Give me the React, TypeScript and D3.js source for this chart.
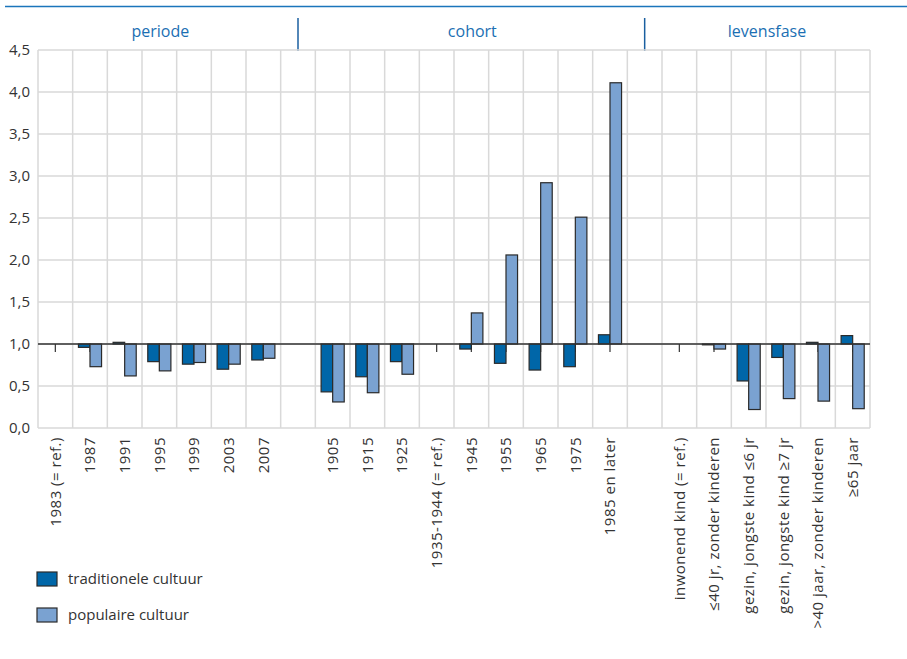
import React from "react";
import * as d3 from "d3";

const groups = ["periode", "cohort", "levensfase"];
const periodeCats = ["1983 (= ref.)", "1987", "1991", "1995", "1999", "2003", "2007"];
const periodeTrad = [1.0, 0.96, 1.02, 0.79, 0.76, 0.70, 0.81];
const periodePop = [1.0, 0.73, 0.62, 0.68, 0.78, 0.76, 0.83];
const cohortCats = ["1905", "1915", "1925", "1935-1944 (= ref.)", "1945", "1955", "1965", "1975", "1985 en later"];
const cohortTrad = [0.43, 0.61, 0.79, 1.0, 0.94, 0.77, 0.69, 0.73, 1.11];
const cohortPop = [0.31, 0.42, 0.64, 1.0, 1.37, 2.06, 2.92, 2.51, 4.11];
const levensCats = ["inwonend kind (= ref.)", "≤40 jr, zonder kinderen", "gezin, jongste kind ≤6 jr", "gezin, jongste kind ≥7 jr", ">40 jaar, zonder kinderen", "≥65 jaar"];
const levensTrad = [1.0, 0.99, 0.56, 0.84, 1.02, 1.10];
const levensPop = [1.0, 0.94, 0.22, 0.35, 0.32, 0.23];
const seriesNames = ["traditionele cultuur", "populaire cultuur"];
const yTicks = [0, 0.5, 1, 1.5, 2, 2.5, 3, 3.5, 4, 4.5];
const baseValue = 1.0;

const COLORS = ["#0066a8", "#7aa2d1"];
const FONT = "'Open Sans', sans-serif";

type Row = { key: string; label: string; group: number; vals: number[] | null };

function buildRows(): Row[] {
  const rows: Row[] = [];
  const parts: [string[], number[], number[]][] = [
    [periodeCats, periodeTrad, periodePop],
    [cohortCats, cohortTrad, cohortPop],
    [levensCats, levensTrad, levensPop],
  ];
  parts.forEach(([cats, t, p], gi) => {
    if (gi > 0) rows.push({ key: "blank" + gi, label: "", group: -gi, vals: null });
    cats.forEach((c, i) => rows.push({ key: c, label: c, group: gi, vals: [t[i], p[i]] }));
  });
  return rows;
}

export default function App() {
  const W = 907, H = 659;
  const left = 38, right = 870, top = 50, bottom = 428;
  const rows = buildRows();
  const x = d3.scaleBand<string>().domain(rows.map(r => r.key)).range([left, right]).padding(0);
  const y = d3.scaleLinear().domain([0, 4.5]).range([bottom, top]);
  const inner = d3.scaleBand<number>().domain([0, 1]).range([0, x.bandwidth()]).paddingInner(0).paddingOuter(0.5);
  const fmt = (v: number) => d3.format(".1f")(v).replace(".", ",");

  const groupCenters = groups.map((g, gi) => {
    const keys = rows.filter(r => r.group === gi).map(r => r.key);
    const x0 = x(keys[0])!;
    const x1 = x(keys[keys.length - 1])! + x.bandwidth();
    return (x0 + x1) / 2;
  });
  const separators = rows.filter(r => r.group < 0).map(r => x(r.key)! + x.bandwidth() / 2);
  const boundaries = rows.map(r => x(r.key)!).concat([right]);

  return (
    <svg width={W} height={H} style={{ position: "absolute", left: 0, top: 0, background: "#fff" }}>
      <line x1={5} x2={907} y1={6.5} y2={6.5} stroke="#1b75bb" strokeWidth={1.5} />
      {groups.map((g, gi) => (
        <text key={g} x={groupCenters[gi] + 1} y={37} textAnchor="middle" fontFamily={FONT} fontSize={16} fill="#1b6fb3">{g}</text>
      ))}
      {separators.map((sx, i) => (
        <line key={i} x1={sx} x2={sx} y1={18} y2={51} stroke="#1a5fa0" strokeWidth={1.5} />
      ))}
      {/* grid */}
      {yTicks.map(t => (
        <line key={"h" + t} x1={left} x2={right} y1={y(t)} y2={y(t)} stroke="#d9d9d9" strokeWidth={1.5} />
      ))}
      {boundaries.map((bx, i) => (
        <line key={"v" + i} x1={bx} x2={bx} y1={top} y2={bottom} stroke="#d9d9d9" strokeWidth={1.5} />
      ))}
      {yTicks.map(t => (
        <text key={"yl" + t} x={30} y={y(t)} dy="0.35em" textAnchor="end" fontFamily={FONT} fontSize={15} fill="#333">{fmt(t)}</text>
      ))}
      {/* ticks on base axis */}
      {rows.filter(r => r.vals).map(r => (
        <line key={"tk" + r.key} x1={x(r.key)! + x.bandwidth() / 2} x2={x(r.key)! + x.bandwidth() / 2} y1={y(baseValue)} y2={y(baseValue) + 8} stroke="#333" strokeWidth={1.2} />
      ))}
      {/* bars */}
      {rows.filter(r => r.vals).map(r => (
        <g key={"b" + r.key}>
          {r.vals!.map((v, si) => {
            const bx = x(r.key)! + inner(si)!;
            const y0 = Math.min(y(v), y(baseValue));
            const h = Math.abs(y(v) - y(baseValue));
            return <rect key={si} x={bx} y={y0} width={inner.bandwidth()} height={h} fill={COLORS[si]} stroke="#2a2a2a" strokeWidth={1.2} />;
          })}
        </g>
      ))}
      <line x1={left} x2={right} y1={y(baseValue)} y2={y(baseValue)} stroke="#333" strokeWidth={1.5} />
      {/* category labels */}
      {rows.filter(r => r.vals).map(r => {
        const cx = x(r.key)! + x.bandwidth() / 2;
        return (
          <text key={"l" + r.key} transform={`translate(${cx},${437}) rotate(-90)`} dy="0.35em" textAnchor="end" fontFamily={FONT} fontSize={15} letterSpacing={0.5} fill="#333">{r.label}</text>
        );
      })}
      {/* legend */}
      {seriesNames.map((s, i) => (
        <g key={s} transform={`translate(37,${572 + i * 36})`}>
          <rect x={0} y={0} width={20} height={14} fill={COLORS[i]} stroke="#2a2a2a" strokeWidth={1.2} />
          <text x={31} y={7} dy="0.35em" fontFamily={FONT} fontSize={15} fill="#333">{s}</text>
        </g>
      ))}
    </svg>
  );
}
